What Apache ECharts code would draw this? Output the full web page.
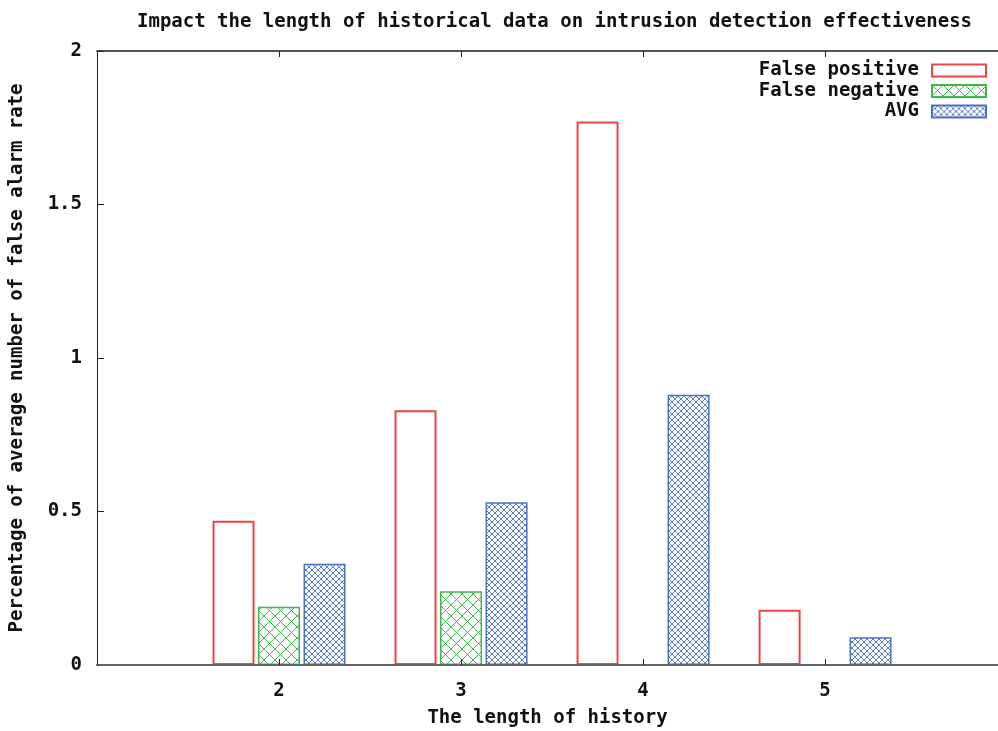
<!DOCTYPE html>
<html>
<head>
<meta charset="utf-8">
<title>Impact of history length</title>
<script src="https://cdn.jsdelivr.net/npm/echarts@6/dist/echarts.min.js"></script>
<style>
  html, body { margin: 0; padding: 0; background: #fff; }
  #chart { width: 998px; height: 731px; }
</style>
</head>
<body>
<div id="chart"></div>
<script>
// history lengths (x ticks)
var historyLen = [2, 3, 4, 5];
// false alarm rates
var falsePositive = [0.47, 0.83, 1.77, 0.18];
var falseNegative = [0.19, 0.24, 0, 0];
var avgRate = [0.33, 0.53, 0.88, 0.09];
var yTicks = [0, 0.5, 1, 1.5, 2];

var FONT = 'DejaVu Sans Mono';
var RED = '#ec4448', GREEN = '#3cb84a', BLUE = '#4a72c4';

// hatch tiles, like gnuplot fill patterns
function hatch(size, color) {
    var c = document.createElement('canvas');
    c.width = size; c.height = size;
    var ctx = c.getContext('2d');
    ctx.fillStyle = '#fff';
    ctx.fillRect(0, 0, size, size);
    ctx.strokeStyle = color;
    ctx.lineWidth = 1;
    ctx.beginPath();
    ctx.moveTo(0, 0); ctx.lineTo(size, size);
    ctx.moveTo(size, 0); ctx.lineTo(0, size);
    ctx.stroke();
    return { image: c, repeat: 'repeat' };
}

function shifted(vals, off) {
    return vals.map(function (v, i) {
        var item = { value: [historyLen[i] + off, v] };
        if (v === 0) item.itemStyle = { borderWidth: 0, opacity: 0 };
        return item;
    });
}

var chart = echarts.init(document.getElementById('chart'));
var barW = 42;
var labelFont = { fontFamily: FONT, fontSize: 19, fontWeight: 'bold', color: '#111' };

chart.setOption({
    animation: false,
    textStyle: { fontFamily: FONT },
    title: {
        text: 'Impact the length of historical data on intrusion detection effectiveness',
        left: 132,
        top: 8,
        textStyle: labelFont
    },
    legend: {
        orient: 'vertical',
        right: 11,
        top: 61,
        padding: 0,
        align: 'right',
        itemWidth: 54,
        itemHeight: 12,
        itemGap: 1.5,
        selectedMode: false,
        icon: 'rect',
        textStyle: { fontFamily: FONT, fontSize: 19, fontWeight: 'bold', color: '#111', padding: [0, 8, 0, 0] },
        data: ['False positive', 'False negative', 'AVG']
    },
    grid: { left: 97, right: 0, top: 51, bottom: 66, containLabel: false, outerBoundsMode: 'none' },
    xAxis: [{
        type: 'value',
        min: 1,
        max: 5.95,
        interval: 1,
        z: 5,
        name: 'The length of history',
        nameLocation: 'middle',
        nameGap: 44,
        nameTextStyle: labelFont,
        axisLine: { lineStyle: { color: '#666', width: 2 } },
        axisTick: { inside: true, length: 6, lineStyle: { color: '#222' } },
        splitLine: { show: false },
        axisLabel: {
            margin: 17,
            fontFamily: FONT, fontSize: 19, fontWeight: 'bold', color: '#111',
            formatter: function (v) { return historyLen.indexOf(v) >= 0 ? String(v) : ''; }
        }
    }, {
        type: 'value',
        position: 'top',
        min: 1,
        max: 5.95,
        interval: 1,
        axisLine: { lineStyle: { color: '#555', width: 2 } },
        axisTick: { inside: true, length: 6, lineStyle: { color: '#222' } },
        axisLabel: { show: false },
        splitLine: { show: false }
    }],
    yAxis: {
        type: 'value',
        min: yTicks[0],
        max: yTicks[yTicks.length - 1],
        interval: 0.5,
        name: 'Percentage of average number of false alarm rate',
        nameLocation: 'middle',
        nameGap: 70,
        nameTextStyle: labelFont,
        axisLine: { show: true, lineStyle: { color: '#222', width: 1 } },
        axisTick: { show: true, inside: true, length: 7, lineStyle: { color: '#222' } },
        splitLine: { show: false },
        axisLabel: { margin: 15, fontFamily: FONT, fontSize: 19, fontWeight: 'bold', color: '#111' }
    },
    series: [{
        name: 'False positive',
        type: 'bar',
        barWidth: barW,
        barGap: '-100%',
        data: shifted(falsePositive, -0.25),
        itemStyle: { color: '#fff', borderColor: RED, borderWidth: 2 }
    }, {
        name: 'False negative',
        type: 'bar',
        barWidth: barW,
        barGap: '-100%',
        data: shifted(falseNegative, 0),
        itemStyle: { color: hatch(11, GREEN), borderColor: GREEN, borderWidth: 1.5 }
    }, {
        name: 'AVG',
        type: 'bar',
        barWidth: barW,
        barGap: '-100%',
        data: shifted(avgRate, 0.25),
        itemStyle: { color: hatch(6, '#5a80cc'), borderColor: BLUE, borderWidth: 1.5 }
    }]
});
</script>
</body>
</html>
